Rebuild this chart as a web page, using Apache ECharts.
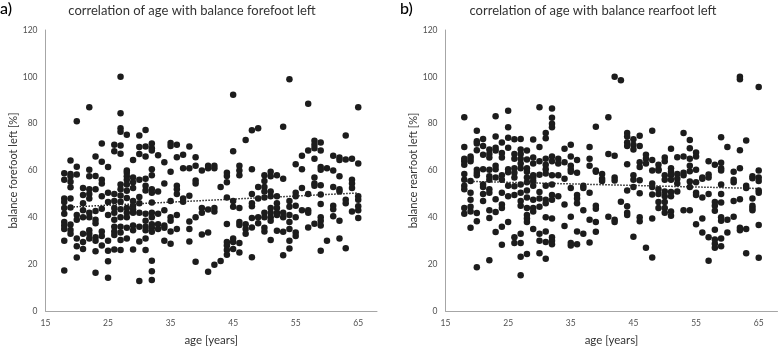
<!DOCTYPE html>
<html><head><meta charset="utf-8">
<style>html,body{margin:0;padding:0;background:#fff}#c{width:778px;height:346px}</style>
<script src="https://cdn.jsdelivr.net/npm/echarts@6/dist/echarts.min.js"></script>
</head><body><div id="c"></div>
<script>
const ages = [18,19,20,21,22,23,24,25,26,27,28,29,30,31,32,33,34,35,36,37,38,39,40,41,42,43,44,45,46,47,48,49,50,51,52,53,54,55,56,57,58,59,60,61,62,63,64,65];
const forefootByAge = [
[58.8,56,48,46.5,44,41.5,38,36.5,35,30,17.3],
[64.3,58.5,57.5,55.2,52.8,48,44.2,36.9,34.6,33],
[81,61.6,58.3,41,39,31,27.7,22.8],
[52.5,49.5,46,43,40,33,29.5,26.5],
[87,60.3,57.5,52,50,48,42,40,34.5,33,31],
[66,57.7,52,42.7,39,37.5,31.5,30,25.5,16.3],
[71.5,63.7,56,54.5,49,43.7,34,32,28],
[61.5,50.5,46.5,41,30,25.7,21.2,14.2],
[71,68.2,50,47,44,42,39,36,34,32.5,26.3],
[100,84.5,78,76.5,70.7,67.2,54,52,49.3,46.7,43.5,40,36,33.5,30.3,26],
[75.3,60,59,57.5,56,54,51.3,48.3,44,42,40,35.5,31],
[64.5,57,55,52.5,47,45,43.5,42,36.5,34.5,26.3],
[75,70,67,56,48.7,46,42,36,29.7,12.8],
[77.3,70.3,66,56.5,53.5,51.5,41.5,38.5,36,34.5,31,26],
[71.5,69.5,68.5,60.5,58,52,50.5,46.3,42,40,37,35.5,33.8,21.5,17,13.2],
[66.5,51,41.5,37,35],
[63.5,54.5,43,36.5,35.5,30],
[71.7,70.5,59.5,47,40,38.5,34,28.7],
[71,65.7,53.5,52,50,41,35],
[66.7,61,48,46.7],
[70.3,61,49.2,38.2,35,29.7],
[65.7,62,55.7,54.5,40,21],
[60,44,42,32.7],
[61,62,43.3,33.5,16.8],
[62,61,44,42.5,19.8],
[53,21.3],
[59,57.7,55,48.5,37.2,29.5,28,26,24],
[92.3,68.2,47,44.5,31,29.5,26.5],
[62,60,58,44,38,36.7,29,25],
[73,37,35,33],
[77.2,60.5,50,46,44.7,39.7,35.7,23],
[78,53,48,40,37.5],
[58,55.5,53,51,48.5,42,40,35.5,34],
[59.5,57.5,51,49,44,42,40,38.5,30.3],
[58,49,46,44,42,41,34.3],
[78.7,56.5,42,40,33.8,23.8],
[99,47,44.5,41,38,35,30,26.7],
[62.7,50.5,49,45,40,33.5,32],
[66.3,60.5,52.5,43],
[88.5,68.5,50,43,42,35.7],
[72.7,71,69.5,65,57,54.5,53.5,37.3],
[72,68.5,61.5,60.3,53.7,49.7,45.7,40,38.5,36.5,25.7],
[61,30],
[66.3,60,53,45,43.5,40.5],
[65.5,64.5,57.5,52,51,38.5,31],
[75,64.7,47.5,46,26.8],
[65,56,54.5,52.5,42.5],
[87,63,49,47.5,44.7,43,39.7]
];
const rearfootByAge = [
[82.7,70,65,64,62.5,58.5,56,53.5,52,44,41.5],
[66,65,64,55.5,50.5,47.5,44.5,42.5,35.5],
[77,72.5,71.5,68.7,60.3,59,58,41.8,38.3,18.7],
[73.5,70.5,66.7,60.5,54,53,50,47],
[69,67,65.5,60.3,57.5,56,52,50.5,43,39.7,21.7],
[83.2,74.5,69.7,68.5,62,60.5,57,47.7,42.3,33.7],
[72,67.5,65.5,58,56,50.5,45.5,44,36,28.3],
[85.5,78.5,74,69.7,59.3,60.5,53.5,49,38],
[73.3,67,65,61,59,57,53.3,49.5,31.5,29],
[73.5,69,67,65,63,61,54,50.5,47,45,33,29,23.2,15.3],
[68.5,64.7,61,59.5,57,55,51.5,48.5,44,41,39.5,38,24.3],
[73.2,65.5,63,58,57,55.5,53.5,47.5,44,42.5,35],
[87,70,64,58.2,50.8,48,44.5,33,30,24.7],
[76,73.8,65,62.5,60.5,58.7,53.5,47.5,46,40,34,29.5,22.3],
[86.5,82.5,80,78.5,66,64,58,54,49.5,47.5,39.5,31.5,30,28.5],
[65,63,58,49],
[69.3,63.5,56.5,45.5,36.3],
[71,66,62,60.5,59.5,52.5,40.3,29,28],
[64.5,59,49.5,48,46,34,28.5],
[53.5,52.5,43,33],
[70,65,62,50.5,39,29.3],
[78.7,60,59.5,45,43.7,38,33.8],
[58.5,56.5,55.5],
[82.7,67,40.3],
[100,66.3,57,55.7,39,38],
[98.5,46.7],
[76,74.5,72,70.5,62.7,51.5,44.7,42,41],
[73.3,71,69,58,56,53,31.7],
[74.8,70.5,63.5,61.5,55.8,50.3,40,38.3],
[66.7,65,63,27],
[77,64.5,60,54.5,53,49.8,39.5,22.8],
[62.5,60.5,60,52,50,46.5,44],
[65.5,64,58,56,51,49,46.5,44,42],
[69.3,61,59.5,58,56,50.8,49,42.5,40.7],
[65.7,58.5,56.5,54.5,51],
[76,66,59,58,43],
[73,69.5,65,62,59.7,55.3,53,43],
[67.7,66,60.3,55,50.5,49.5,37],
[57,56.5,48.5,39.5,33.5],
[64,58.3,57,50,31.5,21.5],
[62.5,46.5,45,42.8,34.7,30.5,28.7,27],
[74.2,63.3,61,60,54,50,46.3,40,38.5,31,27.7],
[70,39,33.5],
[59.5,56,55,47,40.3],
[100,99,68.7,61,47.7,35.5,34.5],
[72.8,53.5,52.5,35,24.7],
[57.5,56.7,48,45,44,43],
[95.7,60,57,55.5,51.5,50.5,36.7,22.7]
];
const forefootTrend = [[19,44.4],[65,50.4]];
const rearfootTrend = [[18,55.4],[65,52.3]];
const titles = ['correlation of age with balance forefoot left','correlation of age with balance rearfoot left'];
const yNames = ['balance forefoot left [%]','balance rearfoot left [%]'];
const panelLabels = ['a)','b)'];

const toPoints = byAge => byAge.flatMap((vals,i)=>vals.map(v=>[ages[i],v]));
const font = 'Lato, "Open Sans", sans-serif';
const txt = '#333333', lab = '#505050', axisCol = '#a6a6a6';

const xAxis = i => ({
  type:'value', gridIndex:i, min:15, max:68, interval:5,
  splitLine:{show:false}, axisTick:{show:false},
  axisLine:{show:true,onZero:false,lineStyle:{color:axisCol,width:1}},
  axisLabel:{color:lab,fontFamily:font,fontSize:8.5,margin:8,showMinLabel:true,showMaxLabel:false,
    formatter:v=>((v-15)%10===0?String(v):'')},
  name:'age [years]',nameLocation:'middle',nameGap:23,
  nameTextStyle:{color:txt,fontFamily:font,fontSize:11.5}
});
const yAxis = i => ({
  type:'value', gridIndex:i, min:0, max:120, interval:20,
  splitLine:{show:false}, axisTick:{show:false},
  axisLine:{show:true,lineStyle:{color:axisCol,width:1}},
  axisLabel:{color:lab,fontFamily:font,fontSize:8.5,margin:8},
  name:yNames[i],nameLocation:'middle',nameGap:26,nameRotate:90,
  nameTextStyle:{color:txt,fontFamily:font,fontSize:11}
});
const scatter = (i,d)=>({type:'scatter',xAxisIndex:i,yAxisIndex:i,data:toPoints(d),symbolSize:6.5,
  itemStyle:{color:'#1c1c1c',opacity:1},silent:true});
const trend = (i,d)=>({type:'line',xAxisIndex:i,yAxisIndex:i,data:d,showSymbol:false,silent:true,z:3,
  lineStyle:{color:'#222',type:'dotted',width:1.5}});

const chart = echarts.init(document.getElementById('c'),null,{renderer:'canvas'});
chart.setOption({
  animation:false, backgroundColor:'#fff',
  title:[
    {text:titles[0],left:192,top:4,padding:0,textAlign:'center',textStyle:{color:txt,fontFamily:font,fontSize:13,fontWeight:'normal'}},
    {text:titles[1],left:593,top:4,padding:0,textAlign:'center',textStyle:{color:txt,fontFamily:font,fontSize:13,fontWeight:'normal'}},
    {text:panelLabels[0],left:0,top:1,padding:0,textStyle:{color:'#000',fontFamily:font,fontSize:16,fontWeight:500}},
    {text:panelLabels[1],left:400,top:1,padding:0,textStyle:{color:'#000',fontFamily:font,fontSize:16,fontWeight:500}}
  ],
  grid:[
    {left:45.5,top:30,width:331.5,height:281,outerBoundsMode:'none'},
    {left:445.5,top:30,width:332,height:281,outerBoundsMode:'none'}
  ],
  xAxis:[xAxis(0),xAxis(1)],
  yAxis:[yAxis(0),yAxis(1)],
  series:[scatter(0,forefootByAge),trend(0,forefootTrend),scatter(1,rearfootByAge),trend(1,rearfootTrend)]
});
</script></body></html>
